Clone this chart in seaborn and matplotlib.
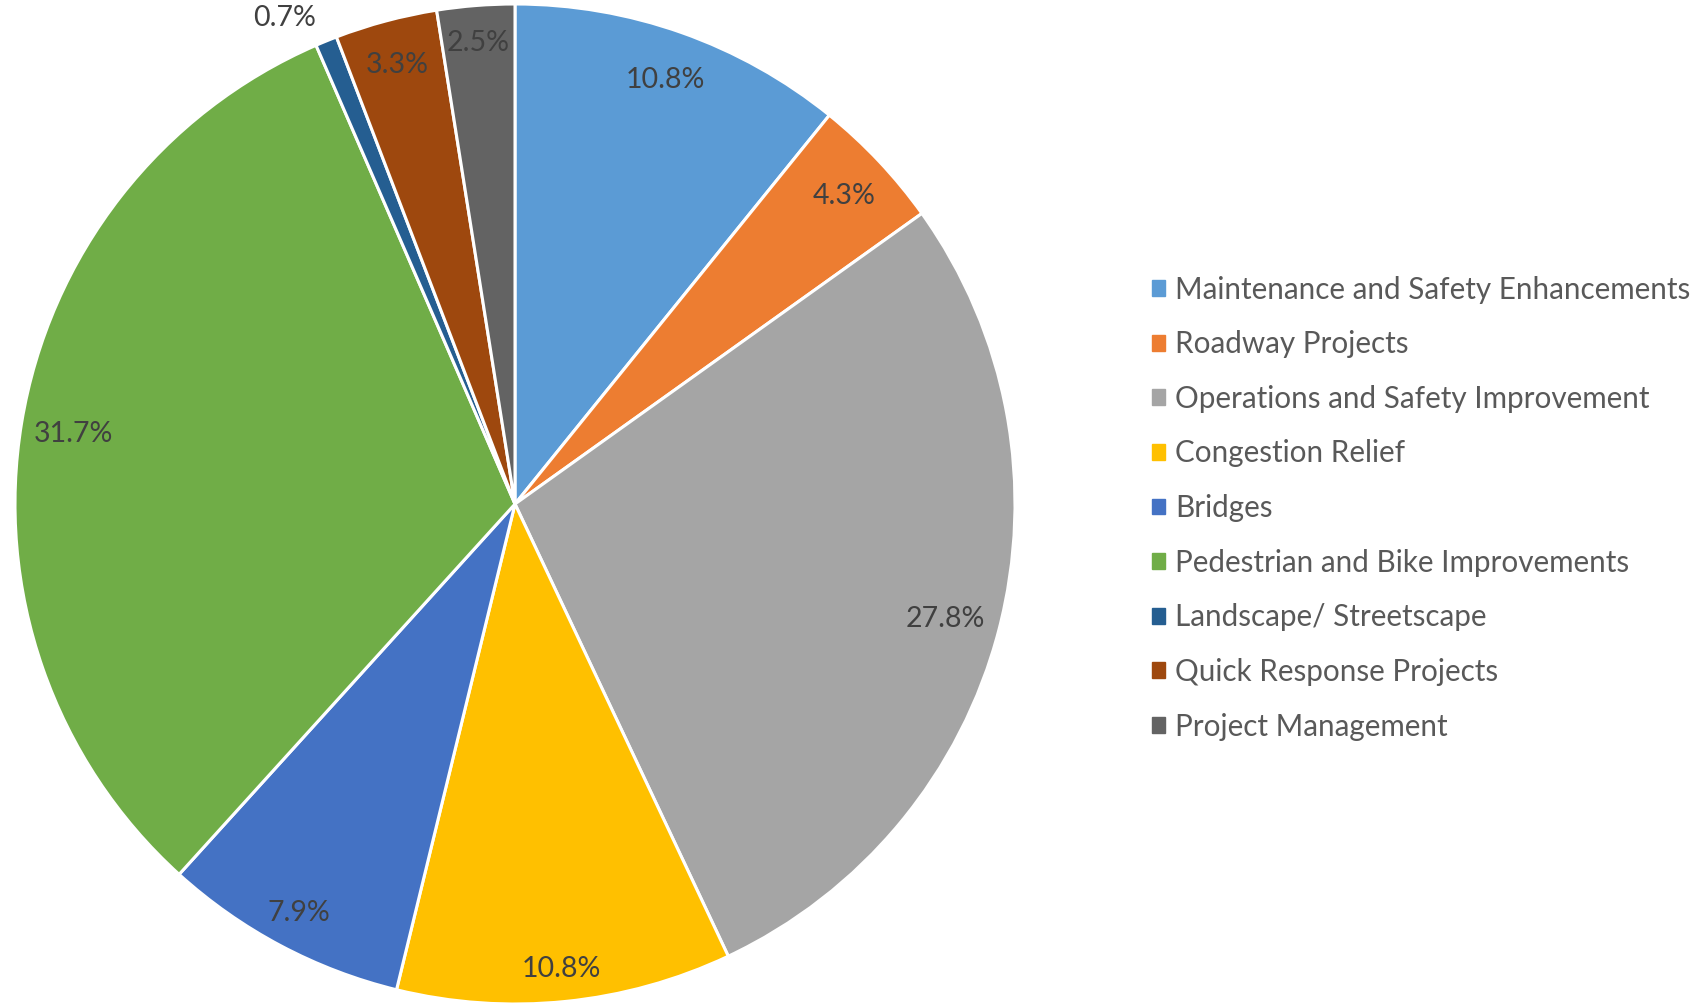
import numpy as np
import matplotlib
matplotlib.use("Agg")
import matplotlib.pyplot as plt
import matplotlib.patches as mpatches
import seaborn as sns

# data
categories = ["Maintenance and Safety Enhancements", "Roadway Projects",
              "Operations and Safety Improvement", "Congestion Relief", "Bridges",
              "Pedestrian and Bike Improvements", "Landscape/ Streetscape",
              "Quick Response Projects", "Project Management"]
shares = [10.8, 4.3, 27.8, 10.8, 7.9, 31.7, 0.7, 3.3, 2.5]
colors = ["#5B9BD5", "#ED7D31", "#A5A5A5", "#FFC000", "#4472C4",
          "#70AD47", "#255E91", "#9E480E", "#636363"]

# radial distance of each percentage label (layout only)
label_r = [0.905, 0.905, 0.89, 0.93, 0.92, 0.895, 1.055, 0.915, 0.93]

sns.set_theme(style="white")
plt.rcParams['font.family'] = ['Lato', 'DejaVu Sans']
pal = sns.color_palette(colors)

fig = plt.figure(figsize=(17.01, 10.06), dpi=100)
ax = fig.add_axes([15 / 1701, 2 / 1006, 1000 / 1701, 1000 / 1006])

wedges, _ = ax.pie(shares, colors=pal, startangle=90, counterclock=False,
                   wedgeprops=dict(edgecolor="white", linewidth=2.2))
ax.set_xlim(-1, 1)
ax.set_ylim(-1, 1)
ax.set_aspect("equal")
ax.axis("off")

# percentage labels, inside near the rim (tiny slice goes outside)
for w, v, r in zip(wedges, shares, label_r):
    mid = np.deg2rad((w.theta1 + w.theta2) / 2)
    ha = "right" if r > 1 else "center"
    ax.text(r * np.cos(mid), r * np.sin(mid) - 0.005, f"{v:.1f}%", ha=ha, va="center",
            fontsize=20.5, color="#404040")

handles = [mpatches.Patch(color=c, label=l) for c, l in zip(pal, categories)]
leg = fig.legend(handles=handles, loc="center left", bbox_to_anchor=(1140 / 1701, 0.495),
                 frameon=False, fontsize=21.3, handlelength=0.45, handleheight=0.45,
                 handletextpad=0.33, labelspacing=0.9, borderaxespad=0)
for t in leg.get_texts():
    t.set_color("#595959")

fig.savefig("out.png", dpi=100)
